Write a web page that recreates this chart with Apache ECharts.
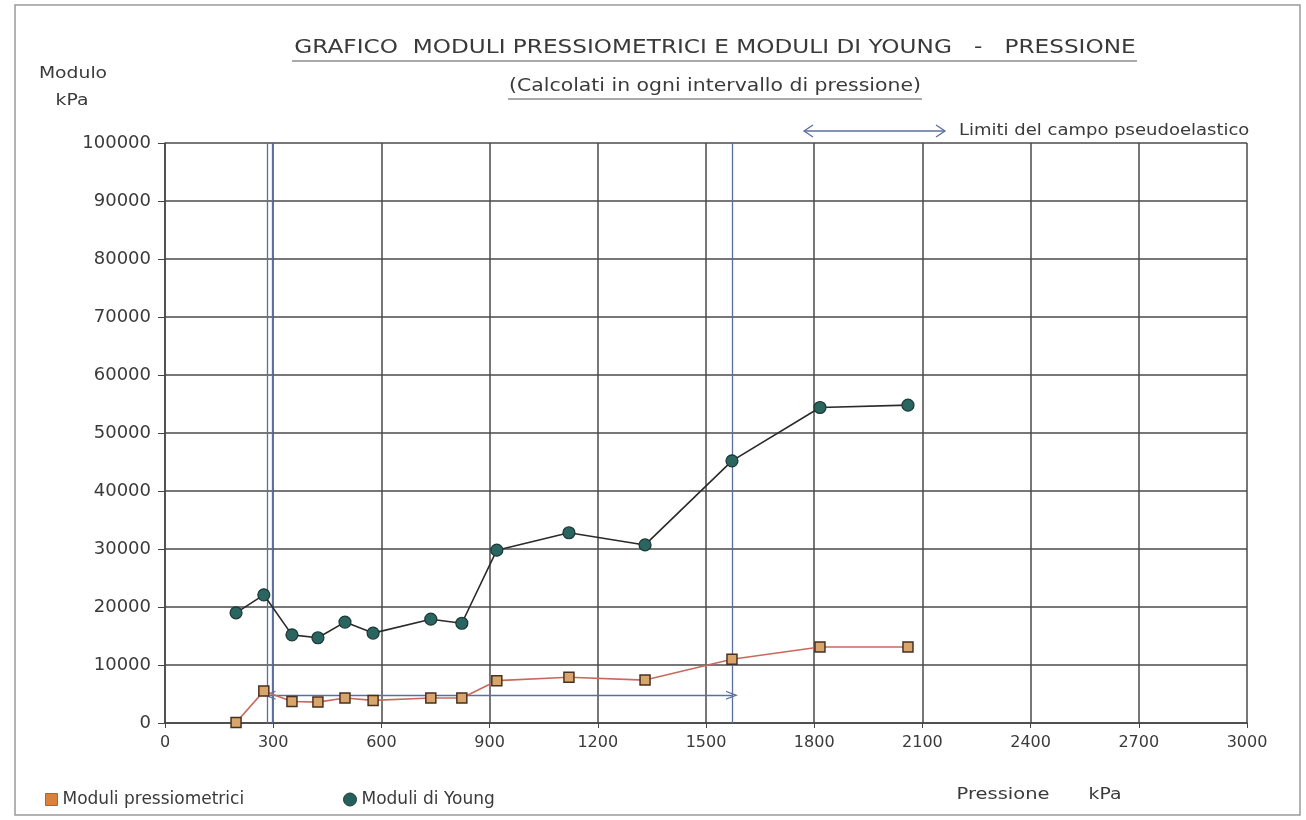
<!DOCTYPE html>
<html>
<head>
<meta charset="utf-8">
<script src="https://cdn.jsdelivr.net/npm/echarts@6/dist/echarts.min.js"></script>
<style>
html,body{margin:0;padding:0;background:#fff;}
#chart{width:1306px;height:820px;}
</style>
</head>
<body>
<div id="chart"></div>
<script>
// Pressure (kPa) at each point
const pressure = [197, 274, 352, 424, 499, 577, 737, 823, 920, 1120, 1331, 1572, 1816, 2060];
// Moduli di Young (kPa)
const youngModuli = [19000, 22100, 15200, 14700, 17400, 15500, 17900, 17200, 29800, 32800, 30700, 45200, 54400, 54800];
// Moduli pressiometrici (kPa)
const pressModuli = [100, 5500, 3700, 3600, 4300, 3900, 4300, 4300, 7300, 7900, 7400, 11000, 13100, 13100];
// Limits of the pseudo-elastic range (kPa)
const limitLines = [283, 298, 1572];
const limitArrow = { from: 290, to: 1572, value: 4800 };
const xTicks = { min: 0, max: 3000, interval: 300 };
const yTicks = { min: 0, max: 100000, interval: 10000 };

const FONT = 'DejaVu Sans';
const TXT = '#3a3a3a';
const chevron = 'path://M0,10 L5,0 L10,10 L8.6,10 L5,3 L1.4,10 Z';

const chart = echarts.init(document.getElementById('chart'), null, { renderer: 'canvas' });

const zip = (xs, ys) => xs.map((x, i) => [x, ys[i]]);
const txt = (text, x, y, size, sx, align) => ({
  type: 'text', x: x, y: y, scaleX: sx || 1,
  style: { text: text, fill: TXT, font: size + 'px "' + FONT + '"', align: align || 'center', verticalAlign: 'middle' }
});

const option = {
  animation: false,
  backgroundColor: '#fff',
  grid: { left: 165, right: 59, top: 143, bottom: 97, containLabel: false },
  xAxis: {
    type: 'value', min: xTicks.min, max: xTicks.max, interval: xTicks.interval,
    axisLine: { show: true, lineStyle: { color: '#444', width: 1.5 } },
    axisTick: { show: true, length: 5, lineStyle: { color: '#444' } },
    axisLabel: { color: TXT, fontFamily: FONT, fontSize: 16, margin: 12, formatter: v => String(v) },
    splitLine: { show: true, lineStyle: { color: '#4a4a4a', width: 1.5 } }
  },
  yAxis: {
    type: 'value', min: yTicks.min, max: yTicks.max, interval: yTicks.interval,
    axisLine: { show: true, lineStyle: { color: '#444', width: 1.5 } },
    axisTick: { show: true, length: 7, lineStyle: { color: '#444' } },
    axisLabel: { color: TXT, fontFamily: FONT, fontSize: 18, margin: 14, formatter: v => String(v) },
    splitLine: { show: true, lineStyle: { color: '#4a4a4a', width: 1.5 } }
  },
  legend: [
    {
      left: 40, top: 786, itemWidth: 12, itemHeight: 12, itemGap: 10,
      textStyle: { color: TXT, fontFamily: FONT, fontSize: 17 },
      data: [{ name: 'Moduli pressiometrici', icon: 'rect', itemStyle: { color: '#d9823b', borderColor: '#b0652a', borderWidth: 1 } }]
    },
    {
      left: 338, top: 786, itemWidth: 13, itemHeight: 13,
      textStyle: { color: TXT, fontFamily: FONT, fontSize: 17 },
      data: [{ name: 'Moduli di Young', icon: 'circle', itemStyle: { color: '#25605b', borderColor: '#1b3d3a', borderWidth: 1 } }]
    }
  ],
  series: [
    {
      name: 'Moduli di Young', type: 'line', data: zip(pressure, youngModuli),
      symbol: 'circle', symbolSize: 12,
      lineStyle: { color: '#2a2a2a', width: 1.6 },
      itemStyle: { color: '#2b6560', borderColor: '#1a3735', borderWidth: 1.2 },
      z: 5
    },
    {
      name: 'Moduli pressiometrici', type: 'line', data: zip(pressure, pressModuli),
      symbol: 'rect', symbolSize: 10,
      lineStyle: { color: '#c8695c', width: 1.6 },
      itemStyle: { color: '#d8a56b', borderColor: '#4a3020', borderWidth: 1.5 },
      z: 5
    },
    {
      name: 'limiti', type: 'line', data: [], silent: true,
      markLine: {
        silent: true, animation: false,
        symbol: 'none',
        label: { show: false },
        lineStyle: { color: '#5a6f9e', width: 1.3, type: 'solid' },
        data: limitLines.map(v => ({ xAxis: v })).concat([
          [
            { coord: [limitArrow.from, limitArrow.value], symbol: chevron, symbolSize: [9, 12] },
            { coord: [limitArrow.to, limitArrow.value], symbol: chevron, symbolSize: [9, 12] }
          ]
        ])
      },
      z: 3
    }
  ],
  graphic: [
    // page frame
    { type: 'rect', shape: { x: 15, y: 5, width: 1285, height: 810 }, style: { fill: null, stroke: '#9a9a9a', lineWidth: 1.5 }, silent: true },
    // title
    txt('GRAFICO  MODULI PRESSIOMETRICI E MODULI DI YOUNG   -   PRESSIONE', 715, 48, 19, 1.22),
    { type: 'line', shape: { x1: 292, y1: 61, x2: 1137, y2: 61 }, style: { stroke: '#555', lineWidth: 1.2 } },
    txt('(Calcolati in ogni intervallo di pressione)', 715, 87, 17, 1.2),
    { type: 'line', shape: { x1: 508, y1: 99, x2: 922, y2: 99 }, style: { stroke: '#555', lineWidth: 1.2 } },
    // y axis name
    txt('Modulo', 73, 74, 15, 1.25),
    txt('kPa', 72, 101, 15, 1.25),
    // x axis name
    txt('Pressione', 1003, 795, 15, 1.3),
    txt('kPa', 1105, 795, 15, 1.25),
    // limits legend arrow
    { type: 'line', shape: { x1: 804, y1: 131, x2: 945, y2: 131 }, style: { stroke: '#5a6f9e', lineWidth: 1.3 } },
    { type: 'polyline', shape: { points: [[813, 125], [804, 131], [813, 137]] }, style: { stroke: '#5a6f9e', lineWidth: 1.3, fill: null } },
    { type: 'polyline', shape: { points: [[936, 125], [945, 131], [936, 137]] }, style: { stroke: '#5a6f9e', lineWidth: 1.3, fill: null } },
    txt('Limiti del campo pseudoelastico', 959, 131, 15, 1.2, 'left')
  ]
};

chart.setOption(option);
</script>
</body>
</html>
